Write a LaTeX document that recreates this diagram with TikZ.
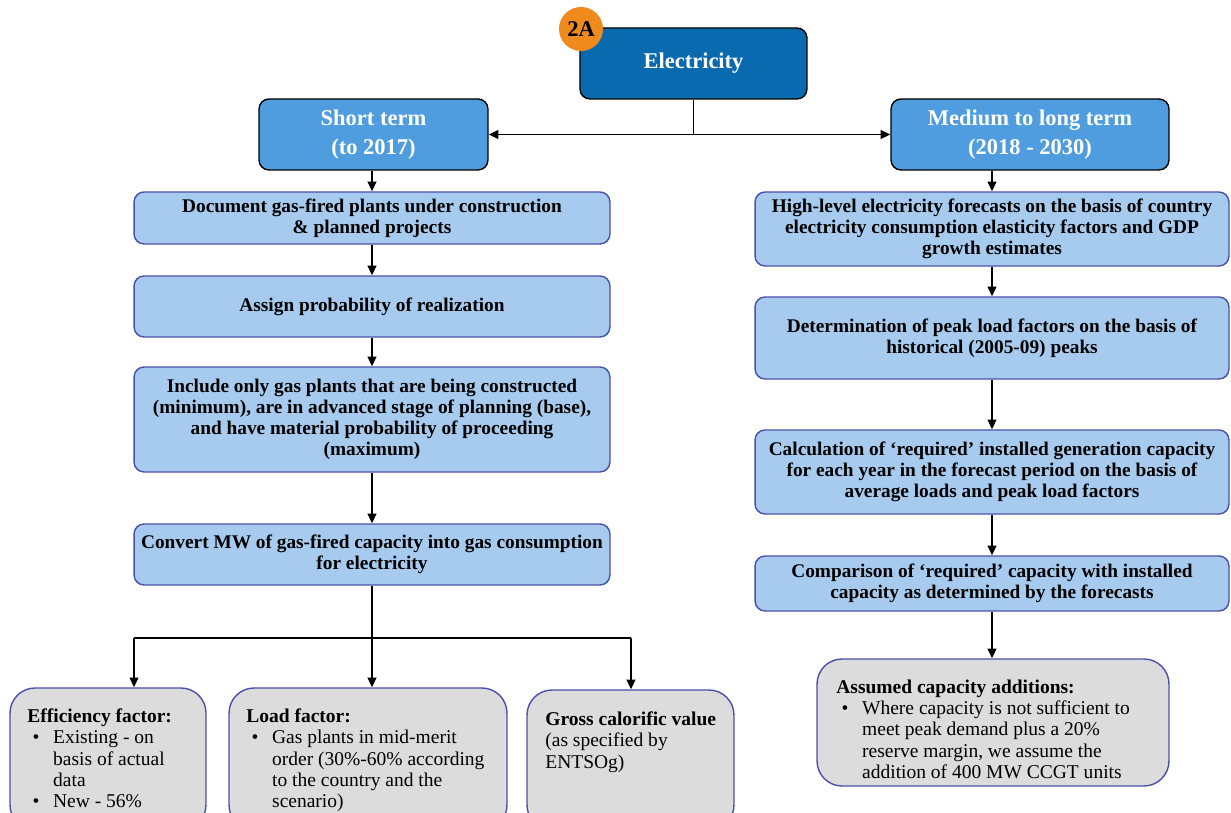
\documentclass[tikz,border=0pt]{standalone}
\usepackage{fontspec}
\setmainfont{Liberation Serif}
\usetikzlibrary{arrows.meta}
\definecolor{darkblue}{RGB}{10,106,176}
\definecolor{midblue}{RGB}{79,157,222}
\definecolor{lightblue}{RGB}{166,203,238}
\definecolor{notegray}{RGB}{220,220,220}
\definecolor{boxline}{RGB}{74,79,170}
\definecolor{badgeorange}{RGB}{240,138,29}
% bullet item and its continuation lines
\newcommand{\bitem}{\hspace*{3pt}\makebox[11.7pt][l]{\textbullet}}
\newcommand{\bcont}{\hspace*{14.7pt}}
\begin{document}
\begin{tikzpicture}[x=0.02cm,y=-0.02cm,
  hdr/.style={draw=black, line width=0.8pt, rounded corners=0.2cm, text=white,
    font=\fontsize{12.8}{16.4}\selectfont\bfseries, align=center, inner sep=0},
  stepbox/.style={draw=boxline, fill=lightblue, line width=0.8pt, rounded corners=0.2cm,
    font=\fontsize{11}{11.9}\selectfont\bfseries, align=center, minimum width=9.52cm, inner sep=0},
  notebox/.style={draw=boxline, fill=notegray, line width=0.8pt, rounded corners=0.5cm, inner sep=0},
  notetext/.style={anchor=north west, align=left, inner sep=0, font=\fontsize{11.1}{12.1}\selectfont},
  link/.style={line width=0.8pt, -{Triangle[length=5.5pt,width=5pt]}},
  plain/.style={line width=0.8pt},
]
\useasboundingbox (0,0) rectangle (1231,813);
\clip (0,0) rectangle (1231,813);

% top level
\node[hdr, fill=darkblue, minimum width=4.54cm, minimum height=1.42cm] (el) at (693.5,63.5) {Electricity};
\node[circle, fill=badgeorange, minimum size=0.88cm, inner sep=0,
  font=\fontsize{12.8}{14}\selectfont\bfseries] (badge) at (581,29) {2A};
\node[hdr, fill=midblue, minimum width=4.58cm, minimum height=1.42cm] (st) at (373.5,134.5) {Short term\\(to 2017)};
\node[hdr, fill=midblue, minimum width=5.56cm, minimum height=1.42cm] (mt) at (1030,134.5) {Medium to long term\\(2018 - 2030)};

% short-term chain
\node[stepbox, minimum height=1.04cm] (l1) at (372,218) {Document gas-fired plants under construction\\\& planned projects};
\node[stepbox, minimum height=1.22cm] (l2) at (372,306.5) {Assign probability of realization};
\node[stepbox, minimum height=2.1cm] (l3) at (372,419.5) {Include only gas plants that are being constructed\\(minimum), are in advanced stage of planning (base),\\and have material probability of proceeding\\(maximum)};
\node[stepbox, minimum height=1.22cm] (l4) at (372,554.5) {Convert MW of gas-fired capacity into gas consumption\\for electricity};

% medium/long-term chain
\node[stepbox, minimum width=9.48cm, minimum height=1.48cm] (r1) at (992,229) {High-level electricity forecasts on the basis of country\\electricity consumption elasticity factors and GDP\\growth estimates};
\node[stepbox, minimum width=9.48cm, minimum height=1.64cm] (r2) at (992,338) {Determination of peak load factors on the basis of\\historical (2005-09) peaks};
\node[stepbox, minimum width=9.48cm, minimum height=1.68cm] (r3) at (992,472) {Calculation of `required' installed generation capacity\\for each year in the forecast period on the basis of\\average loads and peak load factors};
\node[stepbox, minimum width=9.48cm, minimum height=1.1cm] (r4) at (992,583.5) {Comparison of `required' capacity with installed\\capacity as determined by the forecasts};

% note boxes
\node[notebox, minimum width=3.92cm, minimum height=2.84cm] (b1) at (108,759) {};
\node[notebox, minimum width=5.56cm, minimum height=2.84cm] (b2) at (368,759) {};
\node[notebox, minimum width=4.14cm, minimum height=2.8cm] (b3) at (630.5,760) {};
\node[notebox, minimum width=7.04cm, minimum height=2.54cm] (b4) at (993,722.5) {};

\node[notetext] (t1) at (27,708.5) {\textbf{Efficiency factor:}\\
  \bitem Existing - on\\ \bcont basis of actual\\ \bcont data\\ \bitem New - 56\%};
\node[notetext] (t2) at (246,708.5) {\textbf{Load factor:}\\
  \bitem Gas plants in mid-merit\\ \bcont order (30\%-60\% according\\ \bcont to the country and the\\ \bcont scenario)};
\node[notetext] (t3) at (545,711.5) {\textbf{Gross calorific value}\\(as specified by\\ENTSOg)};
\node[notetext] (t4) at (836,679.5) {\textbf{Assumed capacity additions:}\\
  \bitem Where capacity is not sufficient to\\ \bcont meet peak demand plus a 20\%\\ \bcont reserve margin, we assume the\\ \bcont addition of 400 MW CCGT units};

% connectors at the top
\draw[plain] (el.south) -- (el.south |- st.east);
\draw[line width=0.8pt, {Triangle[length=5.5pt,width=5pt]}-{Triangle[length=5.5pt,width=5pt]}] (st.east) -- (mt.west);
\draw[link] (l1.north |- st.south) -- (l1.north);
\draw[link] (r1.north |- mt.south) -- (r1.north);

% short-term chain connectors
\draw[link] (l1) -- (l2);
\draw[link] (l2) -- (l3);
\draw[link] (l3) -- (l4);

% split into the three factors
\coordinate (sp) at (372,638);
\coordinate (sl) at (134,638);
\coordinate (sr) at (631,638);
\draw[plain] (l4.south) -- (sp);
\draw[plain] (sl) -- (sr);
\draw[link] (sl) -- (sl |- b1.north);
\draw[link] (sp) -- (sp |- b2.north);
\draw[link] (sr) -- (sr |- b3.north);

% medium/long-term chain connectors
\draw[link] (r1) -- (r2);
\draw[link] (r2) -- (r3);
\draw[link] (r3) -- (r4);
\draw[link] (r4.south) -- (r4.south |- b4.north);
\end{tikzpicture}
\end{document}
